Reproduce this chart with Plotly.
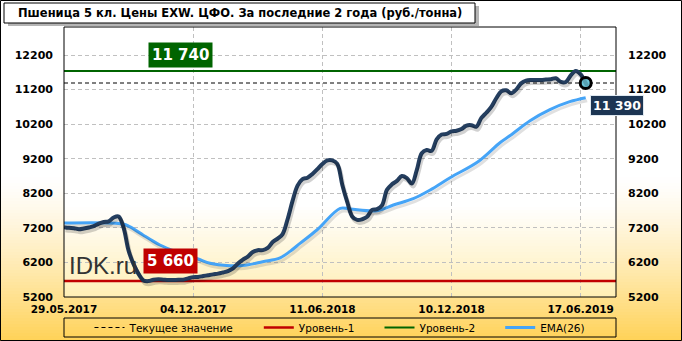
import plotly.graph_objects as go

# ---- data ----
tick_labels = ["29.05.2017", "04.12.2017", "11.06.2018", "10.12.2018", "17.06.2019"]
tick_index = [0, 26, 52, 78, 104]

price = [7220, 7200, 7190, 7160, 7180, 7210, 7250, 7320, 7370, 7390,
         7500, 7530, 7200, 6540, 6150, 5870, 5680, 5660, 5700, 5710,
         5700, 5690, 5690, 5700, 5700, 5740, 5775, 5780, 5805, 5830,
         5855, 5875, 5910, 5950, 6030, 6170, 6280, 6370, 6500, 6555,
         6555, 6620, 6790, 6890, 7020, 7450, 7980, 8420, 8610, 8650,
         8760, 8900, 9050, 9150, 9150, 9050, 8450, 7950, 7530, 7430,
         7450, 7520, 7720, 7740, 7850, 8300, 8460, 8560, 8700, 8640,
         8480, 8870, 9360, 9450, 9430, 9760, 9900, 9916, 9990, 10010,
         10060, 10160, 10170, 10130, 10380, 10530, 10700, 10950, 11150, 11180,
         11093, 11200, 11380, 11460, 11478, 11478, 11480, 11490, 11500, 11527,
         11420, 11420, 11610, 11740, 11640, 11390]
price_idx = list(range(len(price)))

ema_idx = [0, 11.9, 13.2, 15.9, 17.3, 19.3, 22.6, 27, 29.4, 33.4, 36, 40, 43.5, 45.5,
           47.5, 50.9, 55.6, 57.6, 63, 66.3, 70.3, 73.7, 77.7, 83.4, 87.8, 89.8,
           93.8, 97.8, 101.8, 105]
ema_val = [7340, 7310, 7234, 6994, 6870, 6704, 6511, 6300, 6175, 6106, 6110, 6221, 6335, 6520,
           6750, 7138, 7766, 7746, 7697, 7862, 8045, 8296, 8650, 9120, 9670, 9870,
           10300, 10620, 10850, 10966]

level1 = 5660
level2 = 11740
current = price[-1]

y_ticks = [5200, 6200, 7200, 8200, 9200, 10200, 11200, 12200]
y_range = [5200, 13010]
x_range = [0, 111.1]

legend_names = ["Текущее значение", "Уровень-1", "Уровень-2", "EMA(26)"]

# ---- figure ----
W, H = 682, 341
L, R, T, B = 64, 66, 27, 44
PW, PH = W - L - R, H - T - B

def px(X):
    return (X - L) / PW

def py(Y):
    return (H - B - Y) / PH

# shadow axes: same scales shifted by a few pixels
sx, sy = 1.5, 3
dx = sx / PW * (x_range[1] - x_range[0])
dy = sy / PH * (y_range[1] - y_range[0])

shapes = []
# outer background gradient
for Y in range(150, 342, 3):
    t = min(max((Y - 175) / (341 - 175), 0), 1) ** 1.3
    r, g, b = 255, int(255 - t * 45), int(255 - t * 170)
    shapes.append(dict(type="rect", xref="paper", yref="paper", layer="below",
                       x0=px(0), x1=px(W), y0=py(Y + 3), y1=py(Y),
                       fillcolor=f"rgb({r},{g},{b})", line_width=0))
# plot-area gradient
for Y in range(27, 297, 3):
    t = min(max((Y - 205) / (297 - 205), 0), 1)
    r, g, b = 255, int(255 - t * 16), int(255 - t * 75)
    shapes.append(dict(type="rect", xref="paper", yref="paper", layer="below",
                       x0=0, x1=1, y0=py(min(Y + 3, 297)), y1=py(Y),
                       fillcolor=f"rgb({r},{g},{b})", line_width=0))
# plot border
shapes.append(dict(type="rect", xref="paper", yref="paper", x0=0, x1=1, y0=0, y1=1,
                   line=dict(color="black", width=1)))
# title shadow + box
shapes.append(dict(type="rect", xref="paper", yref="paper", layer="above",
                   x0=px(8), x1=px(479), y0=py(26), y1=py(6),
                   fillcolor="rgba(120,120,120,0.55)", line_width=0))
shapes.append(dict(type="rect", xref="paper", yref="paper", layer="above",
                   x0=px(4), x1=px(475), y0=py(23), y1=py(3),
                   fillcolor="white", line=dict(color="black", width=1)))
# legend box
shapes.append(dict(type="rect", xref="paper", yref="paper", layer="above",
                   x0=px(64), x1=px(616), y0=py(337), y1=py(318),
                   fillcolor="rgba(0,0,0,0)", line=dict(color="black", width=1)))
# outer frame
shapes.append(dict(type="rect", xref="paper", yref="paper", layer="above",
                   x0=px(0.5), x1=px(W - 0.5), y0=py(H - 0.5), y1=py(0.5),
                   fillcolor="rgba(0,0,0,0)", line=dict(color="black", width=1)))

pad = "\u00a0" * 6

fig = go.Figure()

# shadows
fig.add_trace(go.Scatter(x=ema_idx, y=ema_val, mode="lines", line_shape="spline",
                         xaxis="x2", yaxis="y3",
                         line=dict(color="rgba(0,0,0,0.12)", width=3),
                         showlegend=False, hoverinfo="skip"))
fig.add_trace(go.Scatter(x=price_idx, y=price, mode="lines", line_shape="spline",
                         xaxis="x2", yaxis="y3",
                         line=dict(color="rgba(0,0,0,0.18)", width=4),
                         showlegend=False, hoverinfo="skip"))

fig.add_trace(go.Scatter(x=x_range, y=[current, current], mode="lines",
                         line=dict(color="black", width=1, dash="4px,3px"),
                         name=legend_names[0] + pad))
fig.add_trace(go.Scatter(x=x_range, y=[level1, level1], mode="lines",
                         line=dict(color="#c00000", width=2.5), name=legend_names[1] + pad))
fig.add_trace(go.Scatter(x=x_range, y=[level2, level2], mode="lines",
                         line=dict(color="#006400", width=2), name=legend_names[2] + pad))
fig.add_trace(go.Scatter(x=ema_idx, y=ema_val, mode="lines", line_shape="spline",
                         line=dict(color="#45a4f7", width=3), name=legend_names[3]))
fig.add_trace(go.Scatter(x=price_idx, y=price, mode="lines", line_shape="spline",
                         line=dict(color="#243e5f", width=4), showlegend=False))
fig.add_trace(go.Scatter(x=[price_idx[-1]], y=[current], mode="markers",
                         marker=dict(size=11, color="#6cc5d9",
                                     line=dict(color="black", width=3)),
                         showlegend=False))
# invisible trace for right axis
fig.add_trace(go.Scatter(x=[0], y=[y_ticks[0]], yaxis="y2", mode="markers",
                         marker=dict(opacity=0), showlegend=False, hoverinfo="skip"))

bold = "DejaVu Sans"
annotations = [
    dict(text="<b>Пшеница 5 кл. Цены EXW. ЦФО. За последние 2 года (руб./тонна)</b>",
         xref="paper", yref="paper", x=px(240), y=py(13), showarrow=False,
         font=dict(family=bold, size=11.5, color="black"), xanchor="center", yanchor="middle"),
    dict(text="<b>11 740</b>", xref="paper", yref="y", x=px(148), y=level2,
         xanchor="left", yanchor="bottom", yshift=3, showarrow=False,
         bgcolor="#006400", borderpad=3,
         font=dict(family=bold, size=15, color="white")),
    dict(text="<b>5 660</b>", xref="paper", yref="y", x=px(143), y=level1,
         xanchor="left", yanchor="bottom", yshift=7, showarrow=False,
         bgcolor="#c00000", borderpad=3,
         font=dict(family=bold, size=15, color="white")),
    dict(text="<b>11 390</b>", xref="x", yref="y", x=price_idx[-1], y=current,
         xanchor="left", yanchor="top", xshift=4, yshift=-12, showarrow=False,
         bgcolor="#1c3553", bordercolor="#dfe8f0", borderwidth=1, borderpad=2,
         font=dict(family=bold, size=12.5, color="white")),
    dict(text="IDK.ru", xref="paper", yref="paper", x=px(67), y=py(265),
         xanchor="left", yanchor="middle", showarrow=False,
         font=dict(family="Liberation Sans", size=24, color="#333333")),
]

fig.update_layout(
    width=W, height=H,
    margin=dict(l=L, r=R, t=T, b=B, pad=0, autoexpand=False),
    paper_bgcolor="white",
    plot_bgcolor="rgba(0,0,0,0)",
    showlegend=True,
    legend=dict(orientation="h", x=0.5, xanchor="center", y=py(327.5), yanchor="middle",
                bgcolor="rgba(0,0,0,0)", borderwidth=0,
                font=dict(family="DejaVu Sans", size=10.5, color="black"),
                itemwidth=30, tracegroupgap=0),
    xaxis=dict(range=x_range, tickvals=tick_index, ticktext=[f"<b>{t}</b>" for t in tick_labels],
               showgrid=True, gridcolor="#c0c0c0", griddash="4px,3px", gridwidth=1,
               zeroline=False, showline=False, ticks="",
               tickfont=dict(family=bold, size=10.5, color="black"), ticklabelstandoff=4),
    xaxis2=dict(range=[x_range[0] - dx, x_range[1] - dx], overlaying="x", visible=False),
    yaxis=dict(range=y_range, tickvals=y_ticks, ticktext=[f"<b>{v}</b>" for v in y_ticks],
               showgrid=True, gridcolor="#c0c0c0", griddash="4px,3px", gridwidth=1,
               zeroline=False, showline=False, ticks="",
               tickfont=dict(family=bold, size=11, color="black"), ticklabelstandoff=10),
    yaxis2=dict(range=y_range, tickvals=y_ticks, ticktext=[f"<b>{v}</b>" for v in y_ticks],
                overlaying="y", side="right", showgrid=False, zeroline=False, ticks="",
                tickfont=dict(family=bold, size=11, color="black"), ticklabelstandoff=11),
    yaxis3=dict(range=[y_range[0] + dy, y_range[1] + dy], overlaying="y", visible=False),
    shapes=shapes,
    annotations=annotations,
)

fig.write_html("out.html")
